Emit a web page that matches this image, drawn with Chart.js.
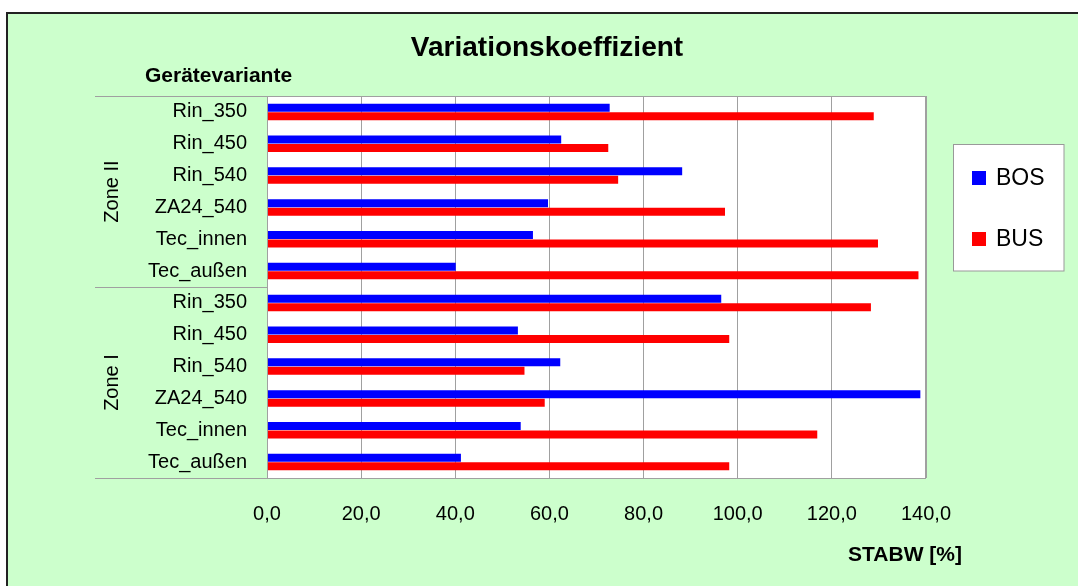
<!DOCTYPE html>
<html>
<head>
<meta charset="utf-8">
<script src="https://cdn.jsdelivr.net/npm/chart.js@4"></script>
<style>
  html, body { margin: 0; padding: 0; background: #fff; }
  #wrap { width: 1078px; height: 586px; }
</style>
</head>
<body>
<div id="wrap"><canvas id="c" width="1078" height="586"></canvas></div>
<script>
// values
var categories = ['Rin_350', 'Rin_450', 'Rin_540', 'ZA24_540', 'Tec_innen', 'Tec_außen',
                  'Rin_350', 'Rin_450', 'Rin_540', 'ZA24_540', 'Tec_innen', 'Tec_außen'];
var zones = ['Zone II', 'Zone I'];
var zoneSize = [6, 6];
var bos = [72.8, 62.5, 88.2, 59.7, 56.5, 40.1, 96.5, 53.3, 62.3, 138.8, 53.9, 41.2];
var bus = [128.9, 72.5, 74.6, 97.3, 129.8, 138.4, 128.3, 98.2, 54.7, 59.0, 116.9, 98.2];
var xTicks = [0, 20, 40, 60, 80, 100, 120, 140];

var FONT = '"Liberation Sans", Arial, sans-serif';
var GREY = '#a0a0a0';

var decor = {
  id: 'decor',
  beforeDraw: function(chart) {
    var ctx = chart.ctx, a = chart.chartArea;
    ctx.save();
    ctx.fillStyle = '#ffffff';
    ctx.fillRect(0, 0, chart.width, chart.height);
    ctx.fillStyle = '#ccffcc';
    ctx.fillRect(7, 13, chart.width, chart.height);
    ctx.strokeStyle = '#222';
    ctx.lineWidth = 2;
    ctx.strokeRect(7, 13, chart.width + 20, chart.height + 20);
    // plot area
    ctx.fillStyle = '#ffffff';
    ctx.fillRect(a.left, a.top, a.right - a.left, a.bottom - a.top);
    ctx.restore();
  },
  afterDraw: function(chart) {
    var ctx = chart.ctx, a = chart.chartArea, y = chart.scales.y;
    ctx.save();
    // plot border
    ctx.strokeStyle = GREY;
    ctx.lineWidth = 1;
    ctx.strokeRect(a.left + 0.5, a.top + 0.5, a.right - a.left - 1, a.bottom - a.top);

    // zone separators and labels
    var start = 0;
    var half = (y.getPixelForValue(1) - y.getPixelForValue(0)) / 2;
    ctx.beginPath();
    ctx.moveTo(95, Math.round(y.getPixelForValue(0) - half) + 0.5);
    ctx.lineTo(a.left, Math.round(y.getPixelForValue(0) - half) + 0.5);
    for (var z = 0; z < zones.length; z++) {
      var end = start + zoneSize[z] - 1;
      var top = y.getPixelForValue(start) - half;
      var bot = y.getPixelForValue(end) + half;
      ctx.moveTo(95, Math.round(bot) + 0.5);
      ctx.lineTo(a.left, Math.round(bot) + 0.5);
      ctx.stroke();
      ctx.save();
      ctx.translate(112, (top + bot) / 2);
      ctx.rotate(-Math.PI / 2);
      ctx.fillStyle = '#000';
      ctx.font = '20px ' + FONT;
      ctx.textAlign = 'center';
      ctx.textBaseline = 'middle';
      ctx.fillText(zones[z], 0, 0);
      ctx.restore();
      start = end + 1;
    }

    // titles
    ctx.fillStyle = '#000';
    ctx.textBaseline = 'alphabetic';
    ctx.font = 'bold 28px ' + FONT;
    ctx.textAlign = 'center';
    ctx.fillText('Variationskoeffizient', 547, 56);
    ctx.font = 'bold 21px ' + FONT;
    ctx.textAlign = 'left';
    ctx.fillText('Gerätevariante', 145, 82);
    ctx.textAlign = 'right';
    ctx.fillText('STABW [%]', 962, 561);

    // legend
    ctx.fillStyle = '#ffffff';
    ctx.fillRect(953.5, 144.5, 110.5, 126.5);
    ctx.strokeStyle = '#999';
    ctx.strokeRect(953.5, 144.5, 110.5, 126.5);
    var ly = [178, 239];
    chart.data.datasets.forEach(function(ds, i) {
      ctx.fillStyle = ds.backgroundColor;
      ctx.fillRect(972, ly[i] - 7, 14, 14);
      ctx.fillStyle = '#000';
      ctx.font = '23px ' + FONT;
      ctx.textAlign = 'left';
      ctx.textBaseline = 'middle';
      ctx.fillText(ds.label, 996, ly[i] + 1);
    });
    ctx.restore();
  }
};

new Chart(document.getElementById('c'), {
  type: 'bar',
  data: {
    labels: categories,
    datasets: [
      { label: 'BOS', data: bos, backgroundColor: '#0000ff', categoryPercentage: 0.534, barPercentage: 0.94 },
      { label: 'BUS', data: bus, backgroundColor: '#ff0000', categoryPercentage: 0.534, barPercentage: 0.94 }
    ]
  },
  options: {
    indexAxis: 'y',
    responsive: false,
    animation: false,
    layout: { padding: { left: 0, right: 152, top: 96, bottom: 0 } },
    plugins: { legend: { display: false }, tooltip: { enabled: false } },
    scales: {
      x: {
        min: xTicks[0], max: xTicks[xTicks.length - 1],
        afterBuildTicks: function(s) { s.ticks = xTicks.map(function(v) { return { value: v }; }); },
        afterFit: function(s) { s.height = 108; },
        grid: { color: GREY, drawTicks: false },
        border: { display: false },
        ticks: {
          padding: 24, color: '#000', font: { family: FONT, size: 20 },
          callback: function(v) { return v.toFixed(1).replace('.', ','); }
        }
      },
      y: {
        afterFit: function(s) { s.width = 267; },
        grid: { display: false, drawTicks: false },
        border: { display: false },
        ticks: { padding: 20, color: '#000', font: { family: FONT, size: 20 }, autoSkip: false }
      }
    }
  },
  plugins: [decor]
});
</script>
</body>
</html>
